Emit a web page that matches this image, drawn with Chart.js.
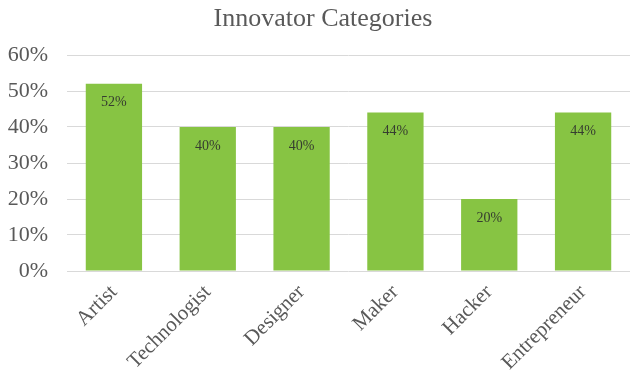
<!DOCTYPE html>
<html>
<head>
<meta charset="utf-8">
<script src="https://cdn.jsdelivr.net/npm/chart.js@4/dist/chart.umd.min.js"></script>
<style>
  html, body { margin: 0; padding: 0; background: #fff; }
  #wrap { width: 630px; height: 381px; }
</style>
</head>
<body>
<div id="wrap"><canvas id="innovatorChart"></canvas></div>
<script>
const ctx = document.getElementById("innovatorChart");

const chartTitle = "Innovator Categories";
const categories = ["Artist", "Technologist", "Designer", "Maker", "Hacker", "Entrepreneur"];
const shares = [0.52, 0.40, 0.40, 0.44, 0.20, 0.44];
const yTicks = [0, 0.1, 0.2, 0.3, 0.4, 0.5, 0.6];

const SERIF = "'Liberation Serif', 'Times New Roman', serif";
const GREY = "#595959";

function pct(v) {
  return Math.round(v * 100) + "%";
}

// title sits a little right of the canvas centre, over the plot
const titleText = {
  id: "titleText",
  afterDraw(chart) {
    const g = chart.ctx;
    g.save();
    g.font = "26px " + SERIF;
    g.fillStyle = GREY;
    g.textAlign = "center";
    g.textBaseline = "middle";
    g.fillText(chartTitle, 323, 19);
    g.restore();
  },
};

// writes the share inside the top of each bar
const barLabels = {
  id: "barLabels",
  afterDatasetsDraw(chart) {
    const g = chart.ctx;
    const meta = chart.getDatasetMeta(0);
    g.save();
    g.font = "14px " + SERIF;
    g.fillStyle = "#363d30";
    g.textAlign = "center";
    g.textBaseline = "middle";
    meta.data.forEach((bar, i) => {
      g.fillText(pct(shares[i]), bar.x, bar.y + 19);
    });
    g.restore();
  },
};

new Chart(ctx, {
  type: "bar",
  data: {
    labels: categories,
    datasets: [
      {
        data: shares,
        backgroundColor: "#87c443",
        borderWidth: 0,
        categoryPercentage: 1,
        barPercentage: 0.6,
      },
    ],
  },
  options: {
    responsive: true,
    maintainAspectRatio: false,
    animation: false,
    layout: { padding: { left: 0, right: 0, top: 55, bottom: 0 } },
    plugins: {
      legend: { display: false },
      tooltip: { enabled: false },
      title: { display: false },
    },
    scales: {
      x: {
        grid: { display: false },
        border: { display: false },
        afterFit(axis) {
          axis.height = 110;
        },
        ticks: {
          color: GREY,
          font: { family: SERIF, size: 21 },
          minRotation: 45,
          maxRotation: 45,
          padding: 1,
        },
      },
      y: {
        min: 0,
        max: 0.6,
        afterBuildTicks(axis) {
          axis.ticks = yTicks.map((v) => ({ value: v }));
        },
        afterFit(axis) {
          axis.width = 67;
        },
        grid: { color: "#d9d9d9", lineWidth: 1, drawTicks: false },
        border: { display: false },
        ticks: {
          color: GREY,
          font: { family: SERIF, size: 22 },
          padding: 19,
          callback: (v) => pct(v),
        },
      },
    },
  },
  plugins: [barLabels, titleText],
});
</script>
</body>
</html>
